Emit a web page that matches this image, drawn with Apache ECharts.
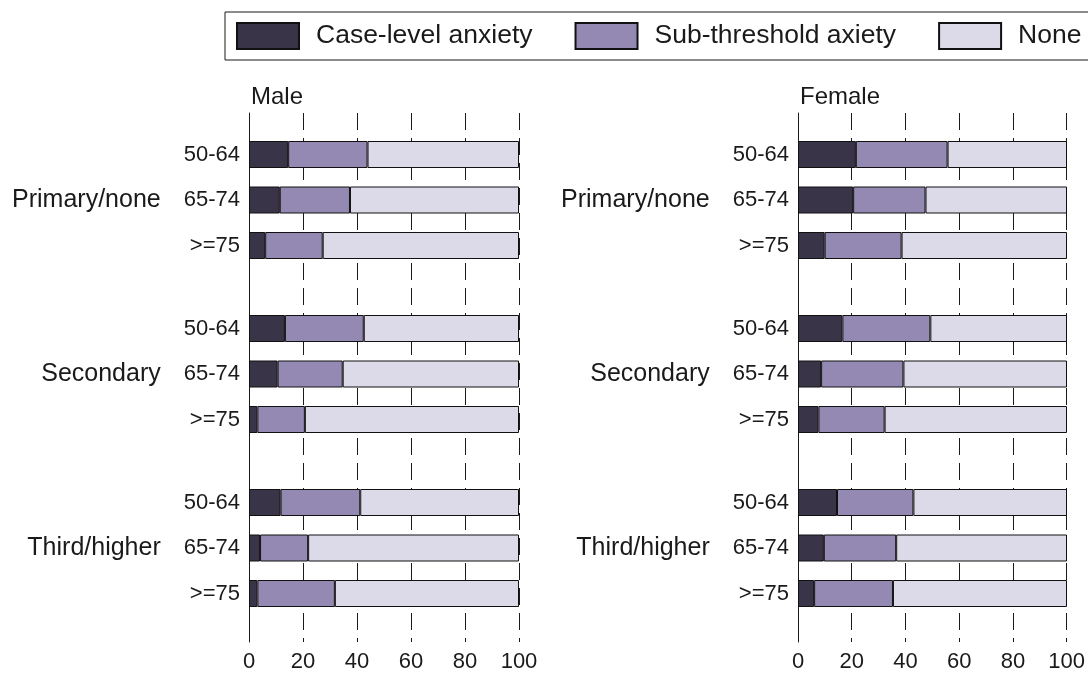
<!DOCTYPE html>
<html>
<head>
<meta charset="utf-8">
<script src="https://cdn.jsdelivr.net/npm/echarts@6/dist/echarts.min.js"></script>
<style>
html,body{margin:0;padding:0;background:#fff;}
#chart{width:1088px;height:673px;}
</style>
</head>
<body>
<div id="chart"></div>
<script>
// ---- data ----
const education = ['Primary/none', 'Secondary', 'Third/higher'];
const ages = ['50-64', '65-74', '>=75'];
const seriesNames = ['Case-level anxiety', 'Sub-threshold axiety', 'None'];
const panels = ['Male', 'Female'];
const xTicks = [0, 20, 40, 60, 80, 100];

// values in %, ordered education-major (Primary 50-64, 65-74, >=75, Secondary ..., Third ...)
const maleCase = [14.5, 11.4, 6.0, 13.3, 10.6, 3.1, 11.7, 4.1, 3.1];
const maleSub  = [29.4, 26.0, 21.3, 29.2, 24.1, 17.6, 29.5, 17.8, 28.7];
const maleNone = [56.1, 62.6, 72.7, 57.5, 65.3, 79.3, 58.8, 78.1, 68.2];
const femaleCase = [21.5, 20.5, 9.9, 16.5, 8.6, 7.6, 14.5, 9.6, 6.0];
const femaleSub  = [34.1, 26.9, 28.6, 32.7, 30.6, 24.6, 28.4, 26.9, 29.3];
const femaleNone = [44.4, 52.6, 61.5, 50.8, 60.8, 67.8, 57.1, 63.5, 64.7];

// ---- layout / style ----
const colors = ['#3a3449', '#9489b3', '#dcd9e8'];
const ink = '#1a1a1a';
const font = 'Liberation Sans, Arial, sans-serif';
const panelLeft = [249, 798];
const panelWidth = [270, 269];
const groupCenters = [200, 374, 548];
const rowStep = 45.5;
const plotTop = 113, plotHeight = 530;

const dataBySex = [[maleCase, maleSub, maleNone], [femaleCase, femaleSub, femaleNone]];

const grid = [], xAxis = [], yAxis = [], series = [];

panels.forEach((p, pi) => {
  const bgIdx = grid.length;
  grid.push({left: panelLeft[pi], width: panelWidth[pi], top: plotTop, height: plotHeight});
  xAxis.push({
    gridIndex: bgIdx, type: 'value', min: 0, max: 100, interval: 20,
    axisLine: {show: false}, axisTick: {show: false},
    axisLabel: {fontSize: 22, color: ink, margin: 9, fontFamily: font,
      formatter: v => xTicks.includes(v) ? String(v) : ''},
    splitLine: {show: true, lineStyle: {color: ink, width: 1, type: [17, 8]}}
  });
  yAxis.push({
    gridIndex: bgIdx, type: 'value', min: 0, max: 1,
    axisLine: {show: true, onZero: false, lineStyle: {color: ink, width: 1}},
    axisTick: {show: false}, axisLabel: {show: false}, splitLine: {show: false}
  });

  education.forEach((edu, gi) => {
    const gIdx = grid.length;
    grid.push({left: panelLeft[pi], width: panelWidth[pi],
      top: groupCenters[gi] - 1.5 * rowStep, height: 3 * rowStep});
    xAxis.push({gridIndex: gIdx, type: 'value', min: 0, max: 100, show: false});
    yAxis.push({
      gridIndex: gIdx, type: 'category', inverse: true, data: ages,
      axisLine: {show: false}, axisTick: {show: false}, splitLine: {show: false},
      axisLabel: {
        margin: 9, color: ink,
        formatter: (val, idx) => idx === 1 ? '{g|' + edu + '}{a|' + val + '}' : '{a|' + val + '}',
        rich: {
          a: {fontSize: 22, color: ink, fontFamily: font},
          g: {fontSize: 25, color: ink, fontFamily: font, padding: [0, 23, 0, 0]}
        }
      }
    });
    seriesNames.forEach((name, si) => {
      const arr = dataBySex[pi][si].slice(gi * 3, gi * 3 + 3);
      series.push({
        name: name, type: 'bar', xAxisIndex: gIdx, yAxisIndex: gIdx,
        stack: 'p' + pi + 'g' + gi, barWidth: 27, data: arr,
        itemStyle: {color: colors[si], borderColor: '#111', borderWidth: 1},
        emphasis: {disabled: true}, animation: false
      });
    });
  });
});

const chart = echarts.init(document.getElementById('chart'), null, {renderer: 'canvas'});
chart.setOption({
  animation: false,
  backgroundColor: '#fff',
  textStyle: {fontFamily: font},
  title: [
    {text: 'Male', left: 251, top: 85, padding: 0,
      textStyle: {fontSize: 24, fontWeight: 'normal', color: ink, fontFamily: font}},
    {text: 'Female', left: 800, top: 85, padding: 0,
      textStyle: {fontSize: 24, fontWeight: 'normal', color: ink, fontFamily: font}}
  ],
  legend: {
    data: seriesNames, left: 225, top: 12, width: 900, orient: 'horizontal',
    itemWidth: 62, itemHeight: 26, itemGap: 42, icon: 'rect',
    borderColor: ink, borderWidth: 1, padding: [10, 30, 10, 11],
    textStyle: {fontSize: 26.5, color: ink, fontFamily: font, padding: [0, 0, 0, 12]},
    selectedMode: false
  },
  grid: grid, xAxis: xAxis, yAxis: yAxis, series: series
});
</script>
</body>
</html>
